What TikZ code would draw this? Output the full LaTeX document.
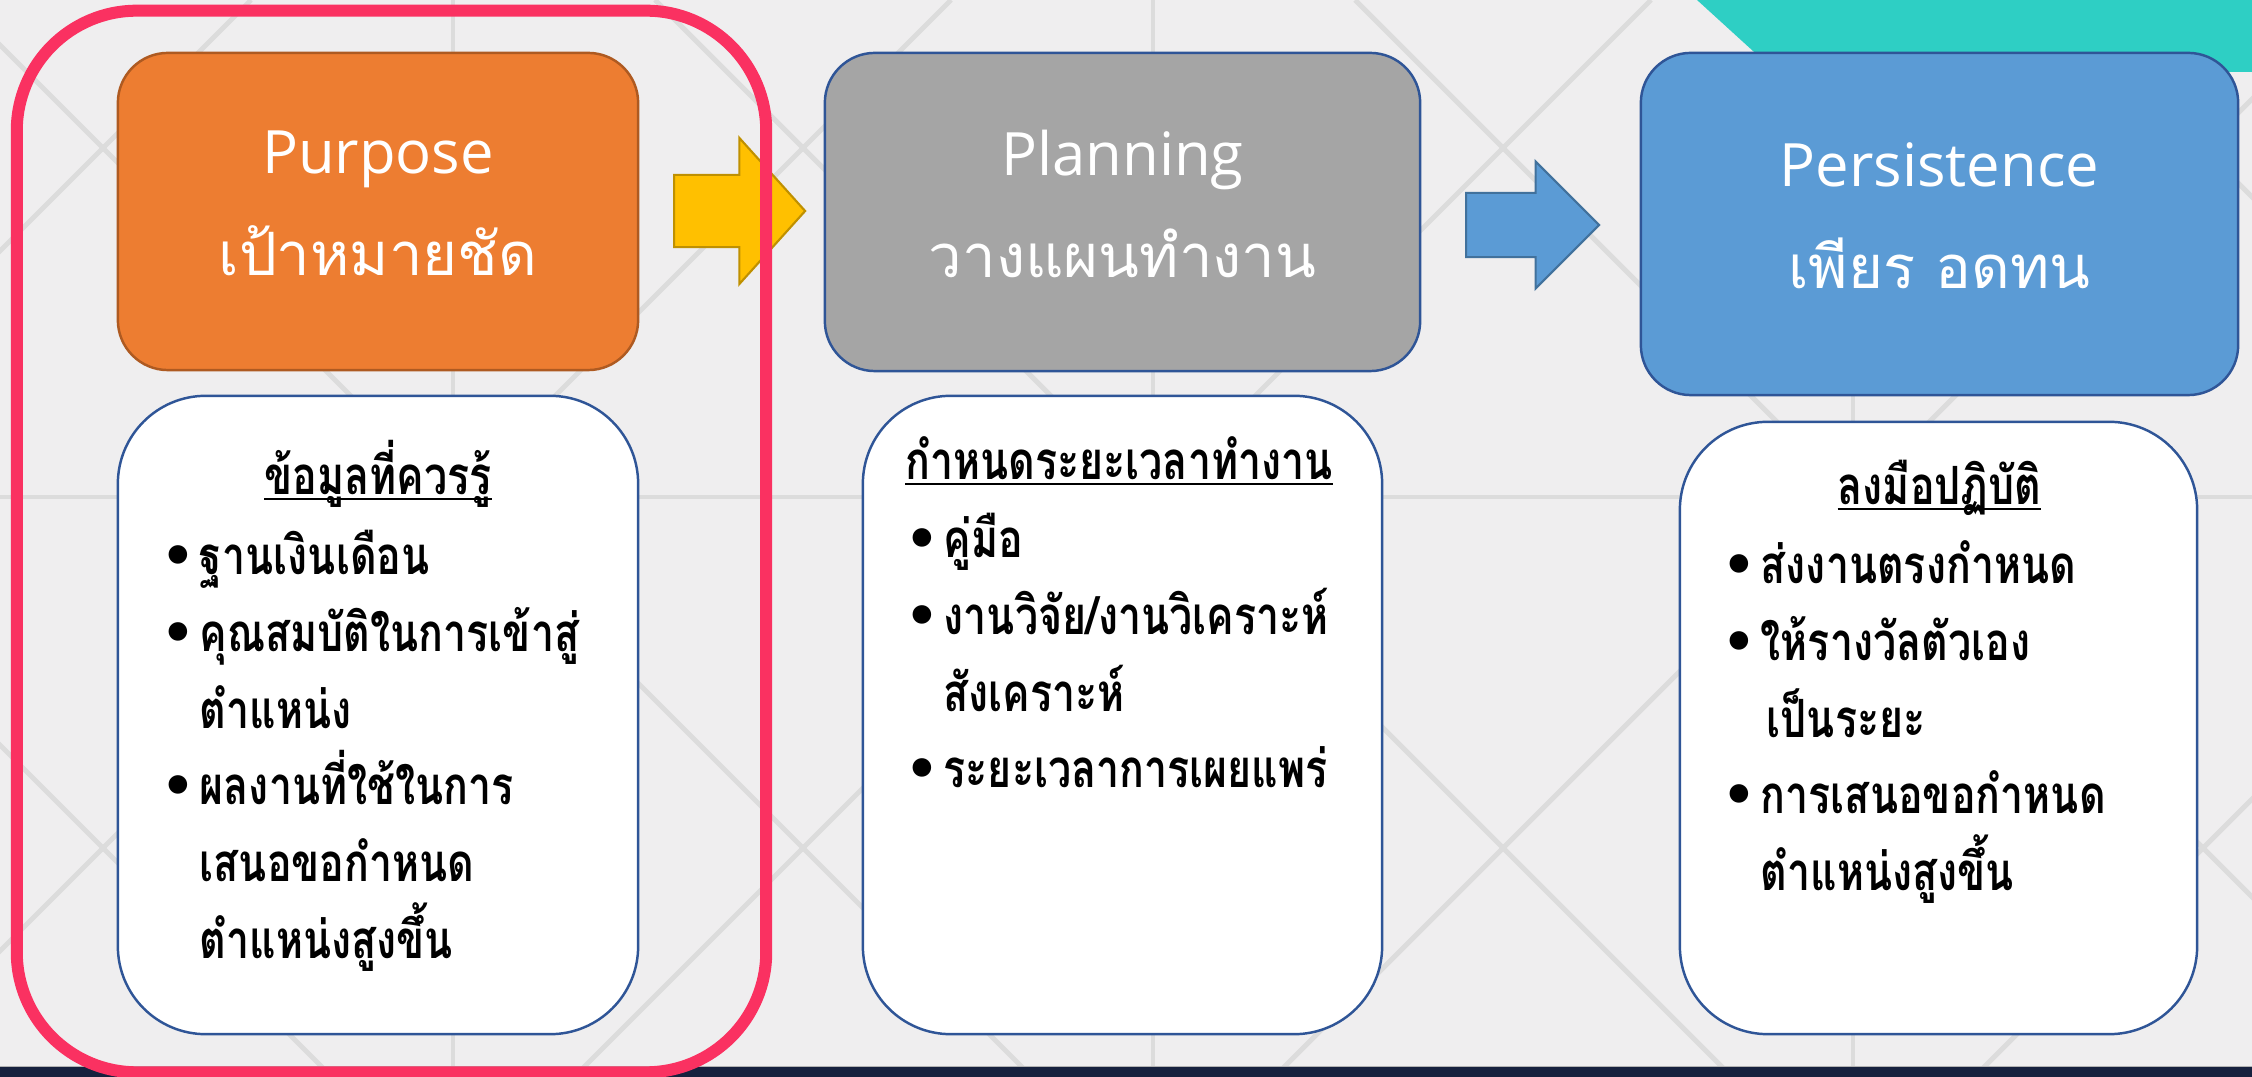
\documentclass[tikz,border=0pt]{standalone}
\usepackage{fontspec}
\usetikzlibrary{shapes.arrows}
\setmainfont{Open Sans}
\newfontfamily\thaifont[Script=Thai]{Loma}
\newfontfamily\thaibody[Script=Thai, FakeStretch=0.78]{Loma}
\newfontfamily\dotfont{DejaVu Sans}

\definecolor{slidebg}{HTML}{EFEEEF}
\definecolor{gridgray}{HTML}{DCDCDC}
\definecolor{cornerteal}{HTML}{2ECFC4}
\definecolor{bandnavy}{HTML}{16213E}
\definecolor{framered}{HTML}{FA3161}
\definecolor{purposefill}{HTML}{ED7D31}
\definecolor{purposeline}{HTML}{AE5A21}
\definecolor{planfill}{HTML}{A5A5A5}
\definecolor{persistfill}{HTML}{5B9BD5}
\definecolor{boxblue}{HTML}{2F5597}
\definecolor{arrowyellow}{HTML}{FFC000}
\definecolor{arrowyellowline}{HTML}{BF9000}
\definecolor{arrowblueline}{HTML}{41719C}

\newcommand\bul{\makebox[0.38cm][l]{\dotfont •}}
\newcommand\cont{\hspace*{0.38cm}}
\newcommand\headline[1]{\setbox0\hbox{#1}\rlap{\rule[-1.5pt]{\wd0}{0.7pt}}\box0}
% extra depth so the two header lines sit a little higher in their box
\newcommand\lift{\rule[-0.17cm]{0pt}{0.1pt}}

\begin{document}
\begin{tikzpicture}[x=0.01cm, y=-0.01cm,
	gridline/.style={gridgray, line width=1.4pt},
	headbox/.style={draw=boxblue, line width=0.7pt, rounded corners=0.5cm, text=white,
		align=center, inner sep=0pt, font=\fontsize{17pt}{29pt}\selectfont},
	infobox/.style={draw=boxblue, fill=white, line width=0.7pt, rounded corners=0.88cm, inner sep=0pt},
	infohead/.style={inner sep=0pt, anchor=base, font=\thaibody\bfseries\fontsize{15pt}{21.8pt}\selectfont},
	infolist/.style={inner sep=0pt, anchor=base west, text width=5cm, align=left,
		font=\thaibody\bfseries\fontsize{15pt}{21.8pt}\selectfont},
	blockarrow/.style={single arrow, line width=0.6pt, inner xsep=0pt, anchor=tail,
		single arrow head indent=0pt}
	]

	\useasboundingbox (0,0) rectangle (2252,1077);
	\fill[slidebg] (0,0) rectangle (2252,1077);

	% background lattice
	\begin{scope}
		\clip (0,0) rectangle (2252,1067);
		\draw[gridline] (251,0) -- (-826,1077);
		\draw[gridline] (951,0) -- (-126,1077);
		\draw[gridline] (1651,0) -- (574,1077);
		\draw[gridline] (2351,0) -- (1274,1077);
		\draw[gridline] (3051,0) -- (1974,1077);
		\draw[gridline] (-745,0) -- (332,1077);
		\draw[gridline] (-45,0) -- (1032,1077);
		\draw[gridline] (655,0) -- (1732,1077);
		\draw[gridline] (1355,0) -- (2432,1077);
		\draw[gridline] (2055,0) -- (3132,1077);
		\draw[gridline] (453,0) -- (453,1077);
		\draw[gridline] (1153,0) -- (1153,1077);
		\draw[gridline] (1853,0) -- (1853,1077);
		\draw[gridline] (0,497) -- (2252,497);
	\end{scope}

	\fill[cornerteal] (1697,0) -- (2252,0) -- (2252,72) -- (1776,72) -- cycle;
	\fill[bandnavy] (0,1067) rectangle (2252,1077);
	\draw[gray!60, line width=0.4pt] (0,1066.5) -- (2252,1066.5);

	% header boxes
	\node[headbox, fill=purposefill, draw=purposeline, minimum width=5.2cm, minimum height=3.17cm]
		(purpose) at (378,211.5) {Purpose\\{\thaifont เป้าหมายชัด}\lift};
	\node[headbox, fill=planfill, minimum width=5.95cm, minimum height=3.18cm]
		(planning) at (1122.5,212) {Planning\\{\thaifont วางแผนทำงาน}\lift};
	\node[headbox, fill=persistfill, minimum width=5.97cm, minimum height=3.42cm]
		(persist) at (1939.5,224) {Persistence\\{\thaifont เพียร อดทน}\lift};

	% arrows
	\node[blockarrow, fill=arrowyellow, draw=arrowyellowline, minimum height=1.31cm,
		inner ysep=0.35cm, single arrow head extend=0.37cm, single arrow tip angle=96]
		(toplan) at (673,211) {};
	\node[blockarrow, fill=persistfill, draw=arrowblueline, minimum height=1.33cm,
		inner ysep=0.31cm, single arrow head extend=0.315cm, single arrow tip angle=90]
		(topersist) at (1465,225) {};

	% detail boxes
	\node[infobox, minimum width=5.2cm, minimum height=6.38cm] (know) at (378,715) {};
	\node[infobox, minimum width=5.19cm, minimum height=6.38cm] (schedule) at (1122.5,715) {};
	\node[infobox, minimum width=5.17cm, minimum height=6.12cm] (practice) at (1938.5,728) {};

	\node[infohead] (knowhead) at (378,495) {\headline{ข้อมูลที่ควรรู้}};
	\node[infolist] (knowlist) at (161,575) {\bul ฐานเงินเดือน\\
		\bul คุณสมบัติในการเข้าสู่\\
		\cont ตำแหน่ง\\
		\bul ผลงานที่ใช้ในการ\\
		\cont เสนอขอกำหนด\\
		\cont ตำแหน่งสูงขึ้น};

	\node[infohead] (schedhead) at (1119,480) {\headline{กำหนดระยะเวลาทำงาน}};
	\node[infolist] (schedlist) at (905,558) {\bul คู่มือ\\
		\bul งานวิจัย/งานวิเคราะห์\\
		\cont สังเคราะห์\\
		\bul ระยะเวลาการเผยแพร่};

	\node[infohead] (practhead) at (1939.5,505) {\headline{ลงมือปฏิบัติ}};
	\node[infolist] (practlist) at (1722,584) {\bul ส่งงานตรงกำหนด\\
		\bul ให้รางวัลตัวเอง\\
		\cont\hspace*{0.06cm}เป็นระยะ\\
		\bul การเสนอขอกำหนด\\
		\cont ตำแหน่งสูงขึ้น};

	% highlight frame
	\node[draw=framered, line width=0.12cm, rounded corners=1.2cm, minimum width=7.49cm,
		minimum height=10.61cm, inner sep=0pt] (focus) at (391.5,541.5) {};

\end{tikzpicture}
\end{document}
